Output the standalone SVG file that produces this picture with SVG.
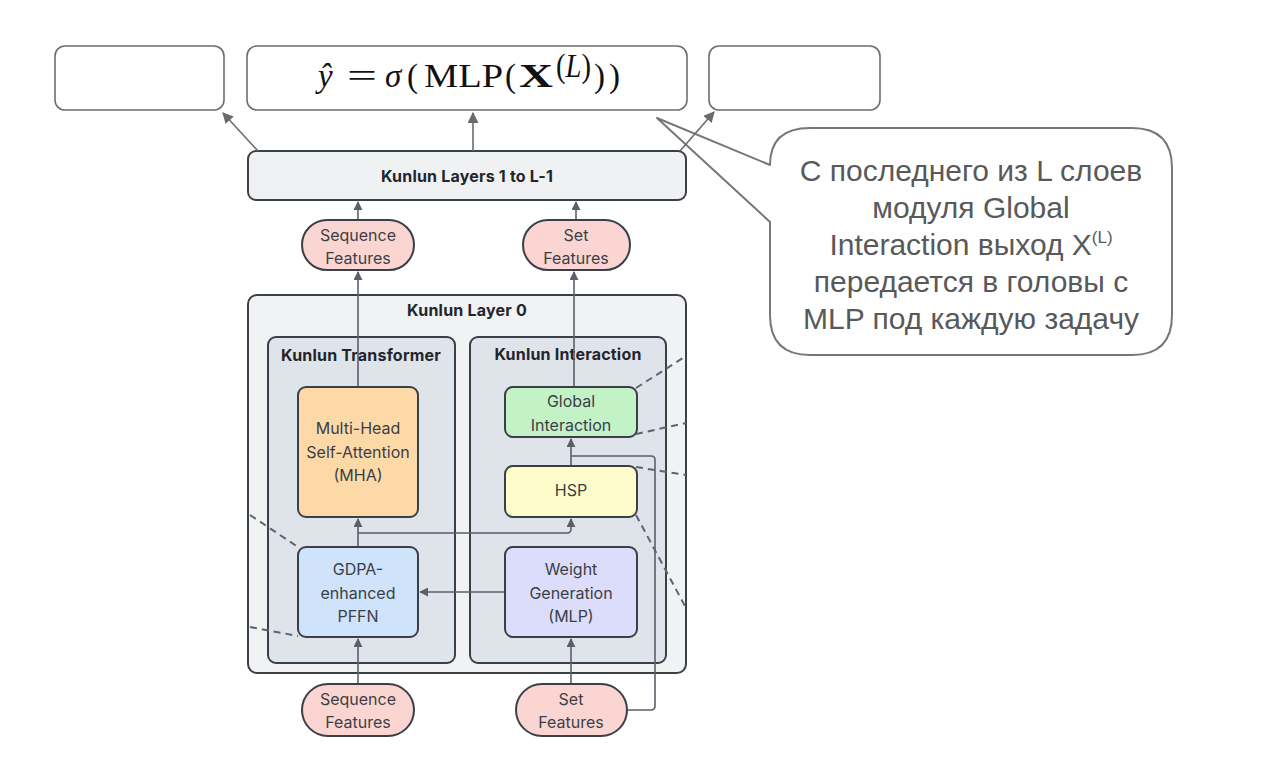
<svg xmlns="http://www.w3.org/2000/svg" width="1280" height="772" viewBox="0 0 1280 772">
<defs>
<style>
.box{stroke:#3b3f47;stroke-width:2}
.lbl{font-family:Inter,"Noto Sans","Liberation Sans",sans-serif;font-size:16px;fill:#3b3f47;text-anchor:middle}
.ttl{font-family:Inter,"Noto Sans","Liberation Sans",sans-serif;font-size:16px;font-weight:700;fill:#22252b;text-anchor:middle;letter-spacing:0.2px}
.con{fill:none;stroke:#5a5f69;stroke-width:1.6}
.top{fill:none;stroke:#6b6b6b;stroke-width:1.6}
.dash{fill:none;stroke:#5f646d;stroke-width:2;stroke-dasharray:7 5}
.head{fill:#ffffff;stroke:#6e6e6e;stroke-width:1.6}
.call{font-family:"Liberation Sans",Arial,sans-serif;font-size:30px;fill:#595959;text-anchor:middle}
.fm{font-family:"Liberation Serif","DejaVu Serif",serif;font-size:33px;fill:#111111}
</style>
<marker id="ah" viewBox="0 0 10 10" refX="9" refY="5" markerWidth="9" markerHeight="9" markerUnits="userSpaceOnUse" orient="auto">
<path d="M0,0 L10,5 L0,10 z" fill="#5a5f69"/>
</marker>
<marker id="ah2" viewBox="0 0 10 10" refX="9" refY="5" markerWidth="11" markerHeight="11" markerUnits="userSpaceOnUse" orient="auto">
<path d="M0,0 L10,5 L0,10 z" fill="#6b6b6b"/>
</marker>
</defs>
<rect width="1280" height="772" fill="#ffffff"/>

<g id="head-left"><rect class="head" x="55" y="46" width="169" height="64" rx="10"/></g>
<g id="head-main"><rect class="head" x="247" y="46" width="440" height="64" rx="10"/>
<text class="fm" x="318" y="87" font-style="italic">ŷ</text>
<text class="fm" x="347" y="87" textLength="30" lengthAdjust="spacingAndGlyphs">=</text>
<text class="fm" x="385" y="87" font-style="italic">σ</text>
<text class="fm" x="407" y="87">(</text>
<text class="fm" x="424" y="87" textLength="79" lengthAdjust="spacingAndGlyphs">MLP</text>
<text class="fm" x="505" y="87">(</text>
<text class="fm" x="519" y="87" font-weight="700" textLength="34" lengthAdjust="spacingAndGlyphs">X</text>
<text class="fm" x="556" y="77" font-size="19" textLength="35" lengthAdjust="spacingAndGlyphs">(<tspan font-style="italic">L</tspan>)</text>
<text class="fm" x="594" y="87" letter-spacing="4">))</text>
</g>
<g id="head-right"><rect class="head" x="709" y="46" width="171" height="64" rx="10"/></g>

<g id="callout">
<path d="M770,165 L657,118 L770,222 L770,315 Q770,355 810,355 L1132,355 Q1172,355 1172,315 L1172,168 Q1172,128 1132,128 L810,128 Q770,128 770,165 Z" fill="#ffffff" stroke="#777777" stroke-width="2" stroke-linejoin="round"/>
<text class="call" x="971" y="181">С последнего из L слоев</text>
<text class="call" x="971" y="218">модуля Global</text>
<text class="call" x="971" y="255">Interaction выход X<tspan font-size="17" dy="-12">(L)</tspan></text>
<text class="call" x="971" y="292">передается в головы с</text>
<text class="call" x="971" y="329">MLP под каждую задачу</text>
</g>

<g id="layers-1-L">
<rect class="box" x="248" y="151" width="438" height="49" rx="8" fill="#f0f1f3"/>
<text class="ttl" x="467" y="182">Kunlun Layers 1 to L-1</text>
</g>

<g id="layer0">
<rect class="box" x="248" y="295" width="438" height="378" rx="9" fill="#f1f2f4"/>
<text class="ttl" x="467" y="316">Kunlun Layer 0</text>
</g>
<g id="transformer">
<rect class="box" x="268" y="337" width="187" height="326" rx="8" fill="#dfe3ea"/>
<text class="ttl" x="361" y="361">Kunlun Transformer</text>
</g>
<g id="interaction">
<rect class="box" x="470" y="337" width="196" height="326" rx="8" fill="#dfe3ea"/>
<text class="ttl" x="568" y="360">Kunlun Interaction</text>
</g>

<g id="connectors">
<line class="top" x1="258" y1="151" x2="223" y2="113" marker-end="url(#ah2)"/>
<line class="top" x1="473" y1="151" x2="473" y2="113" marker-end="url(#ah2)"/>
<line class="top" x1="680" y1="151" x2="714" y2="112" marker-end="url(#ah2)"/>
<line class="con" x1="358" y1="220" x2="358" y2="202" marker-end="url(#ah)"/>
<line class="con" x1="576" y1="220" x2="576" y2="202" marker-end="url(#ah)"/>
<line class="con" x1="358" y1="387" x2="358" y2="272" marker-end="url(#ah)"/>
<line class="con" x1="574" y1="387" x2="574" y2="272" marker-end="url(#ah)"/>
<line class="con" x1="358" y1="684" x2="358" y2="639" marker-end="url(#ah)"/>
<line class="con" x1="571" y1="684" x2="571" y2="639" marker-end="url(#ah)"/>
<line class="con" x1="358" y1="547" x2="358" y2="519" marker-end="url(#ah)"/>
<path class="con" d="M358,533 L567,533 Q571,533 571,529 L571,519" marker-end="url(#ah)"/>
<line class="con" x1="505" y1="592" x2="420" y2="592" marker-end="url(#ah)"/>
<line class="con" x1="571" y1="466" x2="571" y2="439" marker-end="url(#ah)"/>
<path class="con" d="M627,710 L651,710 Q655,710 655,706 L655,460 Q655,456 651,456 L571,456"/>
<line class="dash" x1="250" y1="515" x2="298" y2="547"/>
<line class="dash" x1="250" y1="627" x2="298" y2="636"/>
<line class="dash" x1="636" y1="388" x2="686" y2="356"/>
<line class="dash" x1="636" y1="434" x2="686" y2="423"/>
<line class="dash" x1="636" y1="467" x2="686" y2="475"/>
<line class="dash" x1="636" y1="515" x2="686" y2="608"/>
</g>

<g id="seq-top"><rect class="box" x="302" y="220" width="112" height="50" rx="25" fill="#fbd5d2"/>
<text class="lbl" x="358" y="241">Sequence</text><text class="lbl" x="358" y="264">Features</text></g>
<g id="set-top"><rect class="box" x="523" y="220" width="107" height="50" rx="25" fill="#fbd5d2"/>
<text class="lbl" x="576" y="241">Set</text><text class="lbl" x="576" y="264">Features</text></g>

<g id="mha"><rect class="box" x="298" y="387" width="120" height="130" rx="8" fill="#fdd9a8"/>
<text class="lbl" x="358" y="434">Multi-Head</text><text class="lbl" x="358" y="458">Self-Attention</text><text class="lbl" x="358" y="481">(MHA)</text></g>
<g id="gdpa"><rect class="box" x="298" y="547" width="120" height="90" rx="8" fill="#cfe3fb"/>
<text class="lbl" x="358" y="575">GDPA-</text><text class="lbl" x="358" y="599">enhanced</text><text class="lbl" x="358" y="622">PFFN</text></g>
<g id="global"><rect class="box" x="505" y="387" width="132" height="50" rx="8" fill="#c3f2c7"/>
<text class="lbl" x="571" y="407">Global</text><text class="lbl" x="571" y="431">Interaction</text></g>
<g id="hsp"><rect class="box" x="505" y="466" width="132" height="51" rx="8" fill="#fdfcca"/>
<text class="lbl" x="571" y="496" font-size="13.5">HSP</text></g>
<g id="weight"><rect class="box" x="505" y="547" width="132" height="90" rx="8" fill="#dcdcfb"/>
<text class="lbl" x="571" y="575">Weight</text><text class="lbl" x="571" y="599">Generation</text><text class="lbl" x="571" y="622">(MLP)</text></g>

<g id="seq-bottom"><rect class="box" x="302" y="684" width="112" height="52" rx="26" fill="#fbd5d2"/>
<text class="lbl" x="358" y="705">Sequence</text><text class="lbl" x="358" y="728">Features</text></g>
<g id="set-bottom"><rect class="box" x="516" y="684" width="111" height="52" rx="26" fill="#fbd5d2"/>
<text class="lbl" x="571" y="705">Set</text><text class="lbl" x="571" y="728">Features</text></g>
</svg>
